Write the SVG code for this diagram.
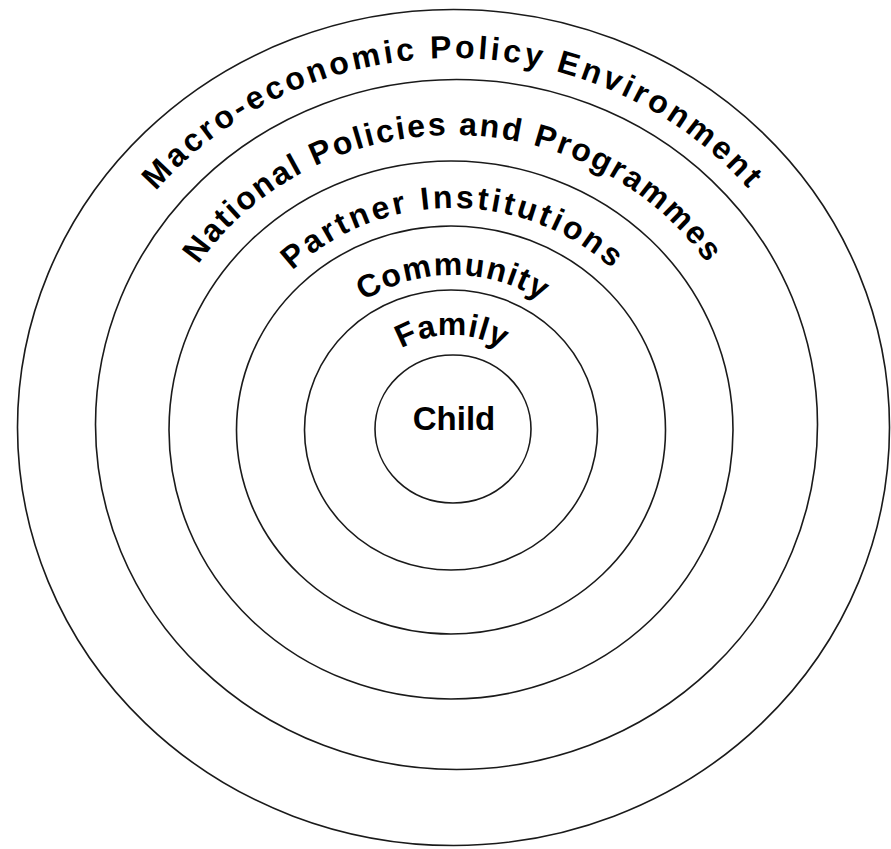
<svg xmlns="http://www.w3.org/2000/svg" xmlns:xlink="http://www.w3.org/1999/xlink" width="891" height="849" viewBox="0 0 891 849">
<style>
  .ring { fill: none; stroke: #1a1a1a; stroke-width: 1.6; }
  .lbl { font-family: "Liberation Sans", Arial, sans-serif; font-weight: bold; font-size: 32px; fill: #000; }
</style>
<defs>
  <path id="p1" d="M 66,428 A 387,370 0 0 1 840,428"/>
  <path id="p2" d="M 146,428 A 307,293 0 0 1 760,428"/>
  <path id="p3" d="M 223,428 A 230,220 0 0 1 683,428"/>
  <path id="p4" d="M 293,428 A 160,153 0 0 1 613,428"/>
  <path id="p5" d="M 355,428 A 97,93 0 0 1 549,428"/>
</defs>
<rect x="0" y="0" width="891" height="849" fill="#fff"/>
<g id="macro">
  <ellipse class="ring" cx="453.5" cy="427.5" rx="436" ry="418"/>
  <text class="lbl" style="letter-spacing:3.3px"><textPath href="#p1" xlink:href="#p1" startOffset="50%" text-anchor="middle">Macro-economic Policy Environment</textPath></text>
</g>
<g id="national">
  <ellipse class="ring" cx="456.5" cy="424.5" rx="361" ry="345"/>
  <text class="lbl" style="letter-spacing:2.1px"><textPath href="#p2" xlink:href="#p2" startOffset="50%" text-anchor="middle">National Policies and Programmes</textPath></text>
</g>
<g id="partner">
  <ellipse class="ring" cx="451" cy="430" rx="282" ry="269"/>
  <text class="lbl" style="letter-spacing:3px"><textPath href="#p3" xlink:href="#p3" startOffset="50%" text-anchor="middle">Partner Institutions</textPath></text>
</g>
<g id="community">
  <ellipse class="ring" cx="451" cy="430" rx="214.5" ry="204"/>
  <text class="lbl" style="letter-spacing:1.4px"><textPath href="#p4" xlink:href="#p4" startOffset="50%" text-anchor="middle">Community</textPath></text>
</g>
<g id="family">
  <ellipse class="ring" cx="451" cy="430" rx="146.5" ry="140"/>
  <text class="lbl" style="letter-spacing:0.8px"><textPath href="#p5" xlink:href="#p5" startOffset="50%" text-anchor="middle">Family</textPath></text>
</g>
<g id="child">
  <ellipse class="ring" cx="453" cy="429" rx="78" ry="74"/>
  <text class="lbl" x="454" y="430" text-anchor="middle" style="font-size:33px">Child</text>
</g>
</svg>
